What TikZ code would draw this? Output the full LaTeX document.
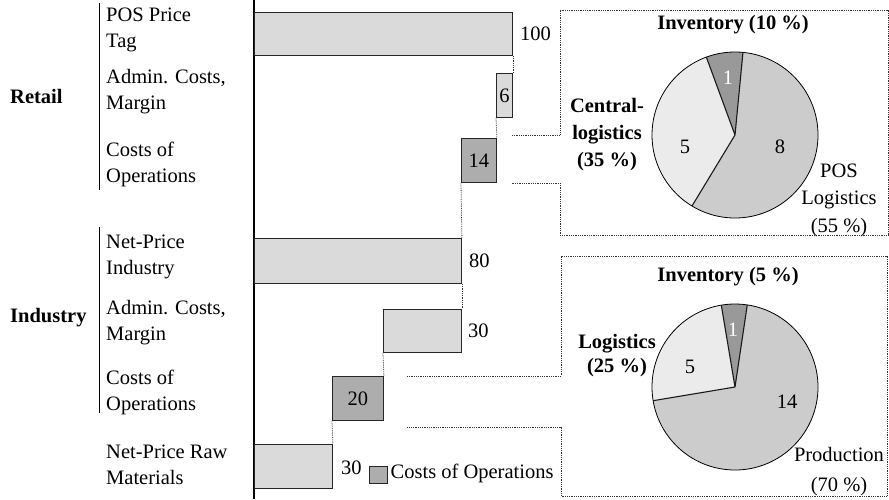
\documentclass[tikz,border=0pt]{standalone}
\usepackage{fontspec}
\setmainfont{Liberation Serif}
\definecolor{barlight}{gray}{0.855}
\definecolor{bardark}{gray}{0.68}
\definecolor{slicemid}{gray}{0.80}
\definecolor{slicelight}{gray}{0.92}
\definecolor{slicedark}{gray}{0.60}
\begin{document}
\begin{tikzpicture}[x=1pt,y=-1pt,
  font=\fontsize{20.5}{26}\selectfont,
  bar/.style={draw=black!85, line width=0.9pt, inner sep=0pt, anchor=north west, fill=barlight},
  costbar/.style={bar, fill=bardark},
  lbl/.style={anchor=west, align=left, inner sep=0pt},
  grp/.style={anchor=west, inner sep=0pt, font=\fontsize{20.5}{26}\selectfont\bfseries},
  val/.style={anchor=west, inner sep=0pt},
  link/.style={densely dotted, line width=0.8pt, black!80},
  slice/.style={draw=black!90, line width=0.9pt},
  bold/.style={font=\fontsize{20.5}{26}\selectfont\bfseries, align=center, inner sep=0pt}
]
\useasboundingbox (0,0) rectangle (889,499);

% value axis and group brackets
\draw[line width=1.1pt] (254,0) coordinate (axtop) -- (254,499) coordinate (axbot);
\draw[line width=0.9pt] (99,3) coordinate (rtop) -- (99,190) coordinate (rbot);
\draw[line width=0.9pt] (99,227) coordinate (itop) -- (99,413) coordinate (ibot);

\node[grp] (retail) at (10,96) {Retail};
\node[grp] (industry) at (10,318) {Industry};

% row captions
\node[lbl] (l1) at (106,30) {POS Price\\Tag};
\node[lbl] (l2) at (106,92) {Admin. Costs,\\Margin};
\node[lbl] (l3) at (106,164) {Costs of\\Operations};
\node[lbl] (l4) at (106,257) {Net-Price\\Industry};
\node[lbl] (l5) at (106,323) {Admin. Costs,\\Margin};
\node[lbl] (l6) at (106,392) {Costs of\\Operations};
\node[lbl] (l7) at (106,465) {Net-Price Raw\\Materials};

% waterfall bars
\node[bar, minimum width=258pt, minimum height=43pt] (b100) at (254,12) {};
\node[bar, minimum width=16pt, minimum height=44pt] (b6) at (496,73) {6};
\node[costbar, minimum width=35pt, minimum height=44pt] (b14) at (461,138) {14};
\node[bar, minimum width=207pt, minimum height=45pt] (b80) at (254,238) {};
\node[bar, minimum width=78pt, minimum height=43pt] (b30) at (383,309) {};
\node[costbar, minimum width=51pt, minimum height=44pt] (b20) at (332,376) {20};
\node[bar, minimum width=78pt, minimum height=44pt] (b30r) at (254,444) {};

\node[val] (v100) at ([xshift=7pt]b100.east) {100};
\node[val] (v80) at ([xshift=7pt]b80.east) {80};
\node[val] (v30) at ([xshift=6pt]b30.east) {30};
\node[val] (v30r) at ([xshift=8pt,yshift=-1pt]b30r.east) {30};

% steps between bars
\draw[link] (b100.south east) -- (b6.north east);
\draw[link] (b6.south west) -- (b14.north east);
\draw[link] (b14.south west) -- (b80.north east);
\draw[link] (b80.south east) -- (b30.north east);
\draw[link] (b30.south west) -- (b20.north east);
\draw[link] (b20.south west) -- (b30r.north east);

% legend
\node[costbar, anchor=center, minimum width=18pt, minimum height=17pt] (leg) at (378,474.5) {};
\node[val] (legtxt) at ([xshift=3pt,yshift=1pt]leg.east) {Costs of Operations};

% callout frames
\coordinate (ra) at (512,135);
\coordinate (rb) at (512,183);
\coordinate (ia) at (407,376);
\coordinate (ib) at (407,427);
\draw[link] (ra) -- (560,135) -- (560,10) -- (888,10) -- (888,235) -- (560,235) -- (560,183) -- (rb);
\draw[link] (ia) -- (561,376) -- (561,256) -- (887,256) -- (887,496) -- (561,496) -- (561,427) -- (ib);

% retail pie: 1 / 5 / 8
\coordinate (c1) at (735,135);
\fill[slicemid] (c1) -- ++(238.8:83pt) arc[start angle=238.8, end angle=444.5, radius=83pt] -- cycle;
\fill[slicelight] (c1) -- ++(110.2:83pt) arc[start angle=110.2, end angle=238.8, radius=83pt] -- cycle;
\fill[slicedark] (c1) -- ++(84.5:83pt) arc[start angle=84.5, end angle=110.2, radius=83pt] -- cycle;
\draw[line width=0.8pt] (c1) circle[radius=83pt];
\draw[slice, line width=1.1pt] (c1) -- ++(84.5:83pt) (c1) -- ++(110.2:83pt) (c1) -- ++(238.8:83pt);
\node[text=white, inner sep=0pt] (p1a) at (728,78) {1};
\node[inner sep=0pt] (p1b) at (685,147) {5};
\node[inner sep=0pt] (p1c) at (780,147) {8};
\node[bold] (inv1) at (733,25) {Inventory (10 \%)};
\node[bold, font=\fontsize{20.5}{27}\selectfont\bfseries] (cen1) at (607,135) {Central-\\logistics\\(35 \%)};
\node[align=center, inner sep=0pt, font=\fontsize{20.5}{27.5}\selectfont] (pos1) at (839,200) {POS\\Logistics\\(55 \%)};

% industry pie: 1 / 5 / 14
\coordinate (c2) at (735,387);
\fill[slicemid] (c2) -- ++(189.5:83pt) arc[start angle=189.5, end angle=441.5, radius=83pt] -- cycle;
\fill[slicelight] (c2) -- ++(99.5:83pt) arc[start angle=99.5, end angle=189.5, radius=83pt] -- cycle;
\fill[slicedark] (c2) -- ++(81.5:83pt) arc[start angle=81.5, end angle=99.5, radius=83pt] -- cycle;
\draw[line width=0.8pt] (c2) circle[radius=83pt];
\draw[slice, line width=1.1pt] (c2) -- ++(81.5:83pt) (c2) -- ++(99.5:83pt) (c2) -- ++(189.5:83pt);
\node[text=white, inner sep=0pt] (p2a) at (733,330) {1};
\node[inner sep=0pt] (p2b) at (690,367) {5};
\node[inner sep=0pt] (p2c) at (787,402) {14};
\node[bold] (inv2) at (728,277) {Inventory (5 \%)};
\node[bold, font=\fontsize{20.5}{24}\selectfont\bfseries] (log2) at (617,356) {Logistics\\(25 \%)};
\node[align=center, inner sep=0pt, font=\fontsize{20.5}{30}\selectfont] (prod2) at (839,472) {Production\\(70 \%)};
\end{tikzpicture}
\end{document}
